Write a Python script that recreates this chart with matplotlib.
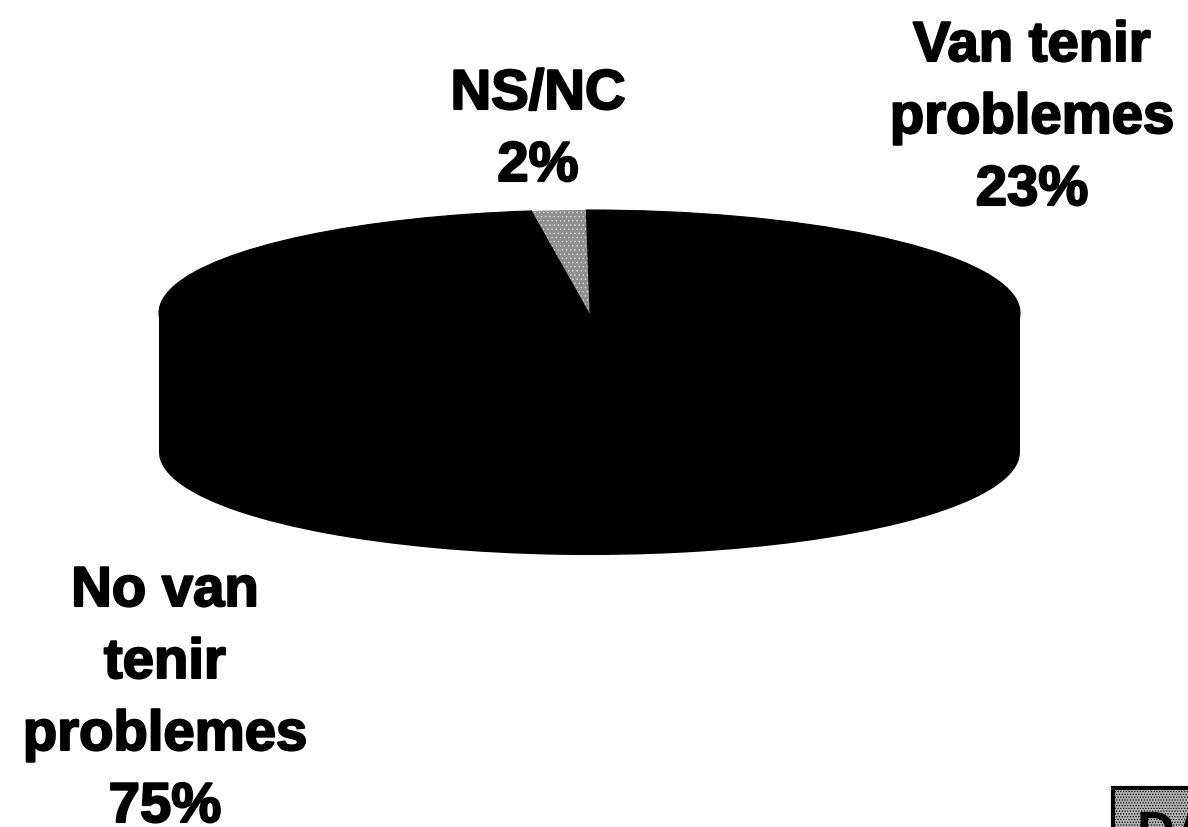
import matplotlib
matplotlib.use("Agg")
import matplotlib.pyplot as plt
import matplotlib.patheffects as pe
from matplotlib.patches import Rectangle

W, H = 1188, 827

labels = ["Van tenir\nproblemes\n23%", "No van\ntenir\nproblemes\n75%", "NS/NC\n2%"]
values = [23, 75, 2]
colors = ["#000000", "#000000", "#8f8f8f"]
badge_text = "DA"

plt.rcParams["font.family"] = ["Liberation Sans", "DejaVu Sans"]
plt.rcParams["hatch.linewidth"] = 0.6

fig = plt.figure(figsize=(W / 100, H / 100), dpi=100)

# overlay in pixel coords for text and badge
bg = fig.add_axes([0, 0, 1, 1])
bg.set_xlim(0, W)
bg.set_ylim(H, 0)
bg.axis("off")

# squashed pie, one unit = semi axes of the top ellipse
ax = fig.add_axes([159 / W, 1 - 416 / H, 861 / W, 206 / H])
depth = 1.35

# side of the disc
ax.pie(values, colors=["#000000"] * 3, startangle=90, counterclock=False,
       center=(0, -depth), wedgeprops={"clip_on": False, "linewidth": 0})
ax.add_patch(Rectangle((-1, -depth), 2, depth, color="black", lw=0, clip_on=False))

wedges, _ = ax.pie(values, colors=colors, startangle=90.5, counterclock=False,
                   wedgeprops={"clip_on": False, "linewidth": 0.8, "edgecolor": "black"})
wedges[2].set_hatch("....")
wedges[2].set_linewidth(0)
wedges[2].set_edgecolor("#cfcfcf")
ax.set_aspect("auto")
ax.set_xlim(-1, 1)
ax.set_ylim(-1, 1)
ax.set_zorder(1)

# labels
label_pos = [(1032, 119), (165, 700), (538, 131)]
for txt, (x, y) in zip(labels, label_pos):
    t = bg.text(x, y, txt, ha="center", va="center", fontsize=40.5,
                fontweight="bold", color="black", linespacing=1.5, zorder=5)
    t.set_path_effects([pe.withStroke(linewidth=1.5, foreground="black")])

# cut off badge in the corner
bg.add_patch(Rectangle((1113, 788), 90, 60, facecolor="#b4b4b4", edgecolor="black",
                       lw=3, hatch="......", clip_on=True))
bg.text(1136, 810, badge_text, fontsize=38, fontweight="bold", va="top", ha="left",
        color="black", clip_on=True)

fig.savefig("out.png", dpi=100)
plt.close(fig)
